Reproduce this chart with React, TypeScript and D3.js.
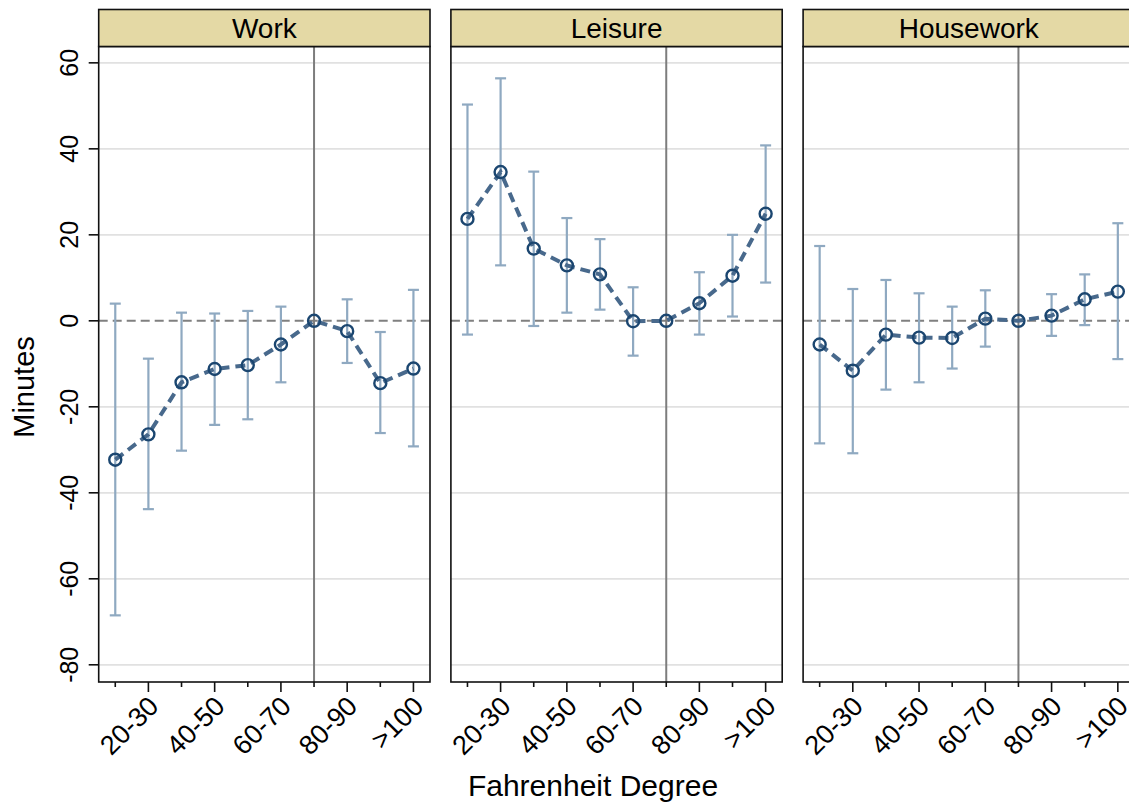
import React from "react";
import * as d3 from "d3";

// Temperature bins (Fahrenheit); 70-80 is the omitted reference bin
const categories = ["<20", "20-30", "30-40", "40-50", "50-60", "60-70", "70-80", "80-90", "90-100", ">100"];
const tickLabels = ["20-30", "40-50", "60-70", "80-90", ">100"];
const panels = ["Work", "Leisure", "Housework"];
const yTicks = [60, 40, 20, 0, -20, -40, -60, -80];

// Point estimates and 95% confidence bounds (minutes)
const workEst = [-32.3, -26.4, -14.3, -11.2, -10.3, -5.5, 0, -2.4, -14.5, -11.1];
const workHi = [4.0, -8.8, 1.9, 1.7, 2.3, 3.3, 0, 5.0, -2.6, 7.2];
const workLo = [-68.5, -43.8, -30.2, -24.2, -22.9, -14.3, 0, -9.8, -26.1, -29.2];

const leisureEst = [23.7, 34.6, 16.8, 12.9, 10.8, -0.1, 0, 4.1, 10.5, 24.9];
const leisureHi = [50.3, 56.4, 34.7, 23.9, 19.0, 7.8, 0, 11.3, 20.0, 40.8];
const leisureLo = [-3.2, 12.9, -1.2, 1.9, 2.6, -8.1, 0, -3.2, 1.0, 8.9];

const houseEst = [-5.5, -11.6, -3.2, -3.9, -4.0, 0.5, 0, 1.2, 5.0, 6.8];
const houseHi = [17.4, 7.4, 9.5, 6.4, 3.3, 7.1, 0, 6.2, 10.8, 22.7];
const houseLo = [-28.5, -30.8, -16.0, -14.3, -11.1, -6.0, 0, -3.5, -1.0, -8.9];

const series = [
  { est: workEst, hi: workHi, lo: workLo },
  { est: leisureEst, hi: leisureHi, lo: leisureLo },
  { est: houseEst, hi: houseHi, lo: houseLo },
];

const W = 1129;
const H = 803;
const FONT = "'Liberation Sans', Arial, Helvetica, sans-serif";

const panelLeft0 = 98.7;
const panelW = 331.3;
const panelStep = 352.2;
const stripTop = 9.5;
const plotTop = 46.5;
const plotBottom = 682;

const y = d3.scaleLinear().domain([-84, 63.8]).range([plotBottom, plotTop]);

const lineColor = "#48698c";
const markerColor = "#1b4670";
const ciColor = "#8fa9c1";

export default function App() {
  return (
    <div style={{ position: "absolute", left: 0, top: 0 }}>
      <svg width={W} height={H} style={{ display: "block", background: "#fff" }} fontFamily={FONT}>
        <rect x={0} y={0} width={W} height={H} fill="#fff" />
        {panels.map((name, pi) => {
          const left = panelLeft0 + pi * panelStep;
          const right = left + panelW;
          const x = d3.scalePoint<string>().domain(categories).range([left, right]).padding(0.5);
          const s = series[pi];
          const pts = categories.map((c, i) => ({ c, i, est: s.est[i], hi: s.hi[i], lo: s.lo[i] }));
          const line = d3
            .line<(typeof pts)[number]>()
            .x((d) => x(d.c) as number)
            .y((d) => y(d.est));
          const refX = x("70-80") as number;
          return (
            <g key={name}>
              {/* grid */}
              {yTicks
                .filter((t) => t !== 0)
                .map((t) => (
                  <line key={t} x1={left} x2={right} y1={y(t)} y2={y(t)} stroke="#e1e1e1" strokeWidth={1.8} />
                ))}
              {/* zero line */}
              <line x1={left} x2={right} y1={y(0)} y2={y(0)} stroke="#808080" strokeWidth={2} strokeDasharray="9,5" />
              {/* reference bin */}
              <line x1={refX} x2={refX} y1={plotTop} y2={plotBottom} stroke="#7d7d7d" strokeWidth={2} />
              {/* confidence intervals */}
              {pts
                .filter((d) => d.hi !== d.lo)
                .map((d) => {
                  const cx = x(d.c) as number;
                  return (
                    <g key={d.c} stroke={ciColor} strokeWidth={2.2}>
                      <line x1={cx} x2={cx} y1={y(d.hi)} y2={y(d.lo)} />
                      <line x1={cx - 5.5} x2={cx + 5.5} y1={y(d.hi)} y2={y(d.hi)} />
                      <line x1={cx - 5.5} x2={cx + 5.5} y1={y(d.lo)} y2={y(d.lo)} />
                    </g>
                  );
                })}
              {/* estimates */}
              <path d={line(pts) || ""} fill="none" stroke={lineColor} strokeWidth={4} strokeDasharray="10,6" />
              {pts.map((d) => (
                <circle key={d.c} cx={x(d.c) as number} cy={y(d.est)} r={6} fill="none" stroke={markerColor} strokeWidth={2.4} />
              ))}
              {/* frame */}
              <rect x={left} y={plotTop} width={panelW} height={plotBottom - plotTop} fill="none" stroke="#111" strokeWidth={1.6} />
              {/* strip */}
              <rect x={left} y={stripTop} width={panelW} height={plotTop - stripTop} fill="#e4d9a5" stroke="#111" strokeWidth={1.6} />
              <text x={(left + right) / 2} y={(stripTop + plotTop) / 2 + 9.5} textAnchor="middle" fontSize={28} fill="#000">
                {name}
              </text>
              {/* x ticks */}
              {categories.map((c) => {
                const cx = x(c) as number;
                const major = tickLabels.includes(c);
                return <line key={c} x1={cx} x2={cx} y1={plotBottom} y2={plotBottom + (major ? 10 : 5)} stroke="#111" strokeWidth={1.6} />;
              })}
              {tickLabels.map((c) => {
                const cx = x(c) as number;
                return (
                  <text
                    key={c}
                    transform={`translate(${cx - 2},${plotBottom + 12}) rotate(-45)`}
                    textAnchor="end"
                    dy="0.72em"
                    fontSize={27}
                    fill="#000"
                  >
                    {c}
                  </text>
                );
              })}
            </g>
          );
        })}
        {/* y axis */}
        {yTicks.map((t) => (
          <g key={t}>
            <line x1={panelLeft0 - 10} x2={panelLeft0} y1={y(t)} y2={y(t)} stroke="#111" strokeWidth={1.6} />
            <text transform={`translate(${77.5},${y(t)}) rotate(-90)`} textAnchor="middle" fontSize={25} fill="#000">
              {t}
            </text>
          </g>
        ))}
        <text transform={`translate(${33.5},${387}) rotate(-90)`} textAnchor="middle" fontSize={29} fill="#000">
          Minutes
        </text>
        <text x={593} y={796} textAnchor="middle" fontSize={30} fill="#000">
          Fahrenheit Degree
        </text>
      </svg>
    </div>
  );
}
